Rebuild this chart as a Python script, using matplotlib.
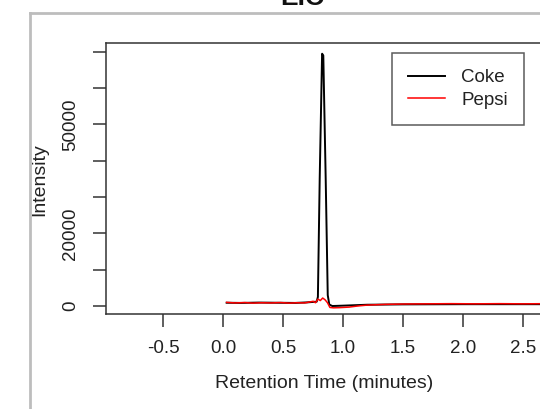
import numpy as np
import matplotlib
matplotlib.use("Agg")
import matplotlib.pyplot as plt
from matplotlib.lines import Line2D

plt.rcParams['font.family'] = ['Liberation Sans', 'DejaVu Sans']

# дані хроматограми (EIC)
coke_time = [0.03, 0.15, 0.30, 0.45, 0.60, 0.70, 0.78, 0.79, 0.805, 0.825,
             0.835, 0.855, 0.872, 0.885, 0.91, 1.00, 1.20, 1.50, 2.00, 2.50, 3.00]
coke_int = [900, 850, 950, 900, 850, 1000, 1200, 2500, 35000, 69500,
            69000, 35000, 3000, 400, 0, 100, 350, 450, 500, 500, 500]

pepsi_time = [0.03, 0.10, 0.18, 0.25, 0.32, 0.40, 0.48, 0.55, 0.62, 0.68,
              0.72, 0.75, 0.77, 0.79, 0.81, 0.83, 0.85, 0.87, 0.89, 0.92,
              0.97, 1.05, 1.12, 1.20, 1.35, 1.50, 1.70, 1.90, 2.10, 2.30,
              2.50, 2.70, 2.90]
pepsi_int = [1000, 850, 950, 800, 900, 850, 950, 800, 900, 850,
             1100, 1300, 900, 1900, 1500, 2200, 1700, 900, -400, -500,
             -450, -300, 0, 250, 450, 550, 600, 650, 600, 650,
             600, 650, 600]

xticks = [-0.5, 0.0, 0.5, 1.0, 1.5, 2.0, 2.5]
xtick_labels = ['-0.5', '0.0', '0.5', '1.0', '1.5', '2.0', '2.5']
yticks = [0, 10000, 20000, 30000, 40000, 50000, 60000, 70000]
ytick_labels = ['0', '', '20000', '', '', '50000', '', '']

W, H = 540, 409
fig = plt.figure(figsize=(W / 100, H / 100), dpi=100)

# сіра рамка навколо
fig.add_artist(Line2D([30 / W, 1], [1 - 13 / H, 1 - 13 / H], color='#bdbdbd', lw=2))
fig.add_artist(Line2D([30 / W, 30 / W], [0, 1 - 13 / H], color='#bdbdbd', lw=2))

ax = fig.add_axes([106 / W, 1 - 314 / H, (546 - 106) / W, (314 - 43) / H])
ax.plot(coke_time, coke_int, color='black', lw=1.4, label='Coke')
ax.plot(pepsi_time, pepsi_int, color='red', lw=1.1, label='Pepsi')

ax.set_xlim(-0.975, 2.69)
ax.set_ylim(-2200, 72450)
ax.set_xticks(xticks)
ax.set_xticklabels(xtick_labels)
ax.set_yticks(yticks)
ax.set_yticklabels(ytick_labels, rotation=90, va='center')

ax.tick_params(axis='both', length=9.5, width=1.1, color='#333333',
               labelsize=13.5, labelcolor='#222222')
ax.tick_params(axis='x', pad=9)
ax.tick_params(axis='y', pad=10)
for s in ax.spines.values():
    s.set_color('#333333')
    s.set_linewidth(1.1)

# підписи
fig.text(324 / W, 1 - 384 / H, 'Retention Time (minutes)', ha='center', va='center',
         fontsize=14, color='#222222')
fig.text(40 / W, 1 - 180 / H, 'Intensity', ha='center', va='center', rotation=90,
         fontsize=14, color='#222222')
fig.text(302 / W, 1 - 5 / H, 'EIC', ha='center', va='baseline', fontsize=19,
         fontweight='bold', color='#111111')

leg = ax.legend(loc='upper left', bbox_to_anchor=(392 / W, 1 - 53 / H),
                bbox_transform=fig.transFigure, borderaxespad=0, fontsize=13.5,
                fancybox=False, handlelength=2.0, handletextpad=0.85,
                labelspacing=0.3, borderpad=0.85)
leg.get_frame().set_edgecolor('#333333')
leg.get_frame().set_linewidth(1.1)
for t in leg.get_texts():
    t.set_color('#222222')

fig.savefig('out.png', dpi=100)
